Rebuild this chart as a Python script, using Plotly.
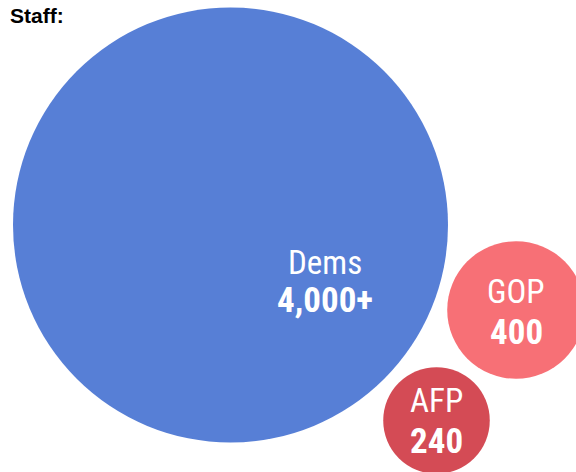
import math
import plotly.graph_objects as go

# ---- data ----
groups = ["Dems", "GOP", "AFP"]
staff = [4000, 400, 240]
value_labels = ["4,000+", "400", "240"]
colors = ["#577fd6", "#f77076", "#d44b55"]

# ---- layout (pixel-like coordinates) ----
W, H = 576, 472
R_MAX = 217.5  # radius of the largest bubble, px
cx = [230.5, 516.0, 436.5]
cy = [225.0, 310.0, 420.5]
label_dx = [94, 0, 0]
name_dy = [37, -19, -20]
num_dy = [75, 22, 21]

vmax = max(staff)
diam = [2 * R_MAX * math.sqrt(v / vmax) for v in staff]

fig = go.Figure()
fig.add_trace(go.Scatter(
    x=cx, y=cy, mode="markers",
    marker=dict(size=diam, sizemode="diameter", sizeref=1,
                color=colors, opacity=1, line=dict(width=0)),
    hoverinfo="skip", showlegend=False, cliponaxis=False,
))

FONT = "Roboto Condensed, Liberation Sans Narrow, DejaVu Sans Condensed, sans-serif"
for i, g in enumerate(groups):
    fig.add_annotation(x=cx[i] + label_dx[i], y=cy[i] + name_dy[i], text=g,
                       showarrow=False, xanchor="center", yanchor="middle",
                       font=dict(family=FONT, size=33, color="white"))
    fig.add_annotation(x=cx[i] + label_dx[i], y=cy[i] + num_dy[i],
                       text="<b>" + value_labels[i] + "</b>",
                       showarrow=False, xanchor="center", yanchor="middle",
                       font=dict(family=FONT, size=35, color="white"))

fig.add_annotation(x=0, y=1, xref="paper", yref="paper", text="<b>Staff:</b>",
                   showarrow=False, xanchor="left", yanchor="top",
                   xshift=8, yshift=-2,
                   font=dict(family="Liberation Sans, Arial, sans-serif", size=21, color="black"))

fig.update_layout(
    width=W, height=H, margin=dict(l=0, r=0, t=0, b=0),
    paper_bgcolor="white", plot_bgcolor="white",
    xaxis=dict(range=[0, W], visible=False, fixedrange=True),
    yaxis=dict(range=[H, 0], visible=False, fixedrange=True),
)

fig.write_html("out.html", config={"displayModeBar": False})
